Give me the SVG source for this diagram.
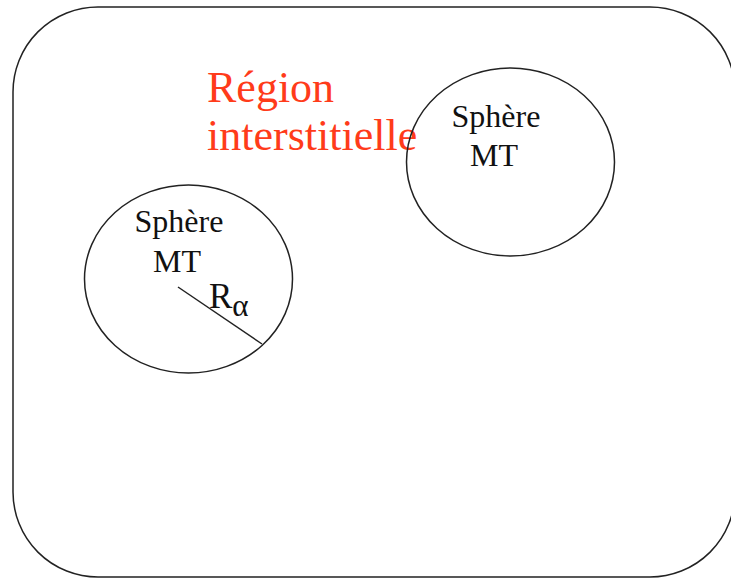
<svg xmlns="http://www.w3.org/2000/svg" width="731" height="578" viewBox="0 0 731 578">
<style>
.shape{fill:none;stroke:#222;stroke-width:1.5}
.lbl{font-family:"Liberation Serif",serif;font-size:32px;fill:#111;text-anchor:middle}
.red{font-family:"Liberation Serif",serif;font-size:44px;fill:#ff3b1a}
</style>
<rect id="region" class="shape" x="13" y="7" width="722" height="570" rx="85" ry="85"/>
<g id="label-region">
<text class="red" x="207" y="102">Région</text>
<text class="red" x="207" y="150">interstitielle</text>
</g>
<g id="sphere-left">
<ellipse class="shape" cx="188.5" cy="279" rx="104" ry="94"/>
<text class="lbl" x="179" y="232">Sphère</text>
<text class="lbl" x="177" y="272">MT</text>
</g>
<g id="connectors">
<line class="shape" x1="178" y1="287" x2="262" y2="344"/>
</g>
<g id="radius-label">
<text font-family="Liberation Serif,serif" font-size="35" fill="#111" x="209" y="308">R<tspan font-size="31" dy="8">α</tspan></text>
</g>
<g id="sphere-right">
<ellipse class="shape" cx="510.5" cy="162" rx="104" ry="94"/>
<text class="lbl" x="496" y="127">Sphère</text>
<text class="lbl" x="494" y="166">MT</text>
</g>
</svg>
